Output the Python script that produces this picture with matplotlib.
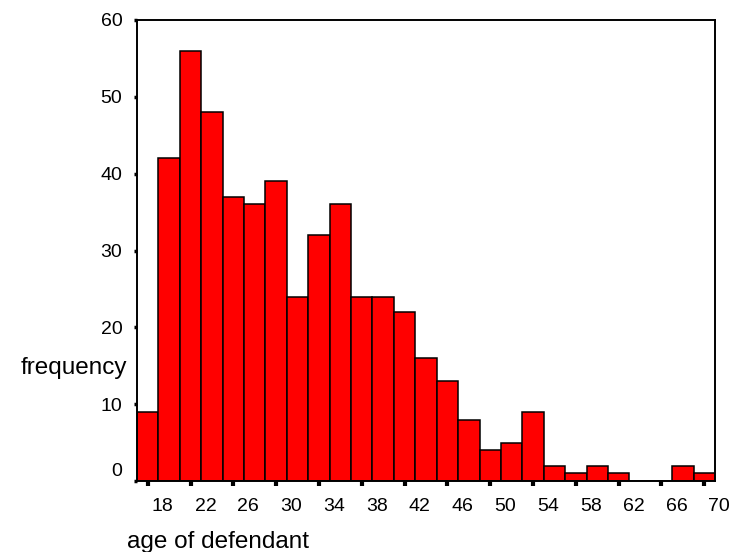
import matplotlib
matplotlib.use("Agg")
import matplotlib.pyplot as plt
from matplotlib.transforms import ScaledTranslation
import numpy as np

# Data: age bins (centers, width 2) and frequencies
bin_centers = list(range(18, 71, 2))
frequencies = [9, 42, 56, 48, 37, 36, 39, 24, 32, 36, 24, 24, 22, 16, 13, 8,
               4, 5, 9, 2, 1, 2, 1, 0, 0, 2, 1]
x_ticks = list(range(18, 71, 4))
y_ticks = [0, 10, 20, 30, 40, 50, 60]

plt.rcParams['font.family'] = ['Liberation Sans', 'DejaVu Sans']

DPI = 100
fig = plt.figure(figsize=(7.31, 5.52), dpi=DPI)
ax = fig.add_axes([137/731, 1-481/552, (715-137)/731, (481-20)/552])

ax.bar(bin_centers, frequencies, width=2, color='#ff0000', edgecolor='black',
       linewidth=1.1, align='center', zorder=2)

ax.set_xlim(17, 71)
ax.set_ylim(0, 60)
ax.set_xticks(x_ticks)
ax.set_xticklabels([str(t) for t in x_ticks])
ax.set_yticks(y_ticks)
ax.set_yticklabels([str(t) for t in y_ticks])

for s in ax.spines.values():
    s.set_linewidth(1.4)
    s.set_color('black')

ax.tick_params(axis='x', direction='out', length=3.5, width=3, color='black',
               labelsize=14, pad=9)
ax.tick_params(axis='y', direction='out', length=2.5, width=2.5, color='black',
               labelsize=14, pad=8)

# shift x tick labels to the right as in the reference
off = ScaledTranslation(15/DPI, 0, fig.dpi_scale_trans)
for lab in ax.get_xticklabels():
    lab.set_transform(lab.get_transform() + off)
# the "0" label sits a bit above its tick
yl = ax.get_yticklabels()
yl[0].set_transform(yl[0].get_transform() + ScaledTranslation(0, 11/DPI, fig.dpi_scale_trans))

ax.set_ylabel('frequency', fontsize=17.5, rotation=0, ha='right', va='center')
ax.yaxis.set_label_coords((127-137)/578, (481-368)/461)
ax.set_xlabel('age of defendant', fontsize=17.5, ha='left', va='baseline')
ax.xaxis.set_label_coords((127-137)/578, (481-547.7)/461)

fig.savefig('out.png', dpi=DPI)
